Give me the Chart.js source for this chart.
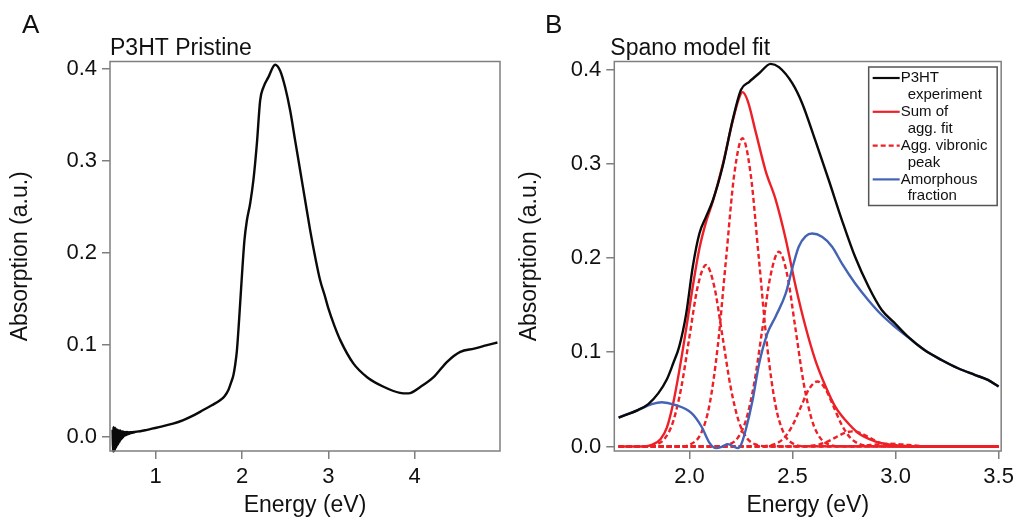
<!DOCTYPE html>
<html>
<head>
<meta charset="utf-8">
<script src="https://cdn.jsdelivr.net/npm/chart.js@4.4.1/dist/chart.umd.min.js"></script>
<style>
  html, body { margin: 0; padding: 0; background: #fff; }
  #wrap { position: relative; width: 1019px; height: 521px; overflow: hidden; }
  canvas { position: absolute; top: 0; }
  #cA { left: 0; }
  #cB { left: 510px; }
</style>
</head>
<body>
<div id="wrap">
  <canvas id="cA" width="510" height="521"></canvas>
  <canvas id="cB" width="509" height="521"></canvas>
</div>
<script>
// ---------------- Panel A data (P3HT Pristine) ----------------
const energyNoiseA = [0.500,0.505,0.510,0.515,0.520,0.525,0.530,0.535,0.540,0.545,0.550,0.555,0.560,0.565,0.570,0.575,0.580,0.585,0.590,0.595,0.600,0.605,0.610,0.615,0.620,0.625,0.630,0.635,0.640,0.645,0.650,0.655,0.660,0.665,0.670,0.675,0.680,0.685,0.690,0.695,0.700,0.705,0.710,0.715,0.720,0.725,0.730,0.735,0.740,0.745,0.750,0.755,0.760];
const absNoiseA = [0.008,-0.016,0.011,-0.016,0.010,-0.015,0.010,-0.013,0.009,-0.011,0.008,-0.009,0.008,-0.008,0.007,-0.006,0.007,-0.005,0.007,-0.003,0.006,-0.002,0.006,-0.001,0.006,0.000,0.0055,0.001,0.0055,0.0015,0.0055,0.002,0.0055,0.0025,0.0055,0.003,0.0052,0.0033,0.0052,0.0036,0.0052,0.0039,0.0052,0.0042,0.0053,0.0045,0.0053,0.0047,0.0054,0.0049,0.0055,0.0052,0.0056];
const energyA = [0.78,0.90,1.05,1.20,1.32,1.45,1.55,1.65,1.746,1.80,1.842,1.88,1.90,1.92,1.94,1.966,1.998,2.028,2.056,2.094,2.132,2.172,2.21,2.248,2.306,2.384,2.442,2.50,2.558,2.616,2.674,2.732,2.79,2.848,2.906,2.964,3.00,3.07,3.14,3.29,3.45,3.64,3.83,3.93,4.07,4.22,4.38,4.53,4.69,4.84,4.96];
const absA    = [0.0058,0.0078,0.011,0.0145,0.0184,0.024,0.0293,0.0345,0.040,0.0445,0.051,0.061,0.067,0.078,0.093,0.127,0.174,0.2137,0.235,0.2535,0.279,0.3185,0.3655,0.380,0.391,0.4045,0.398,0.380,0.3547,0.322,0.2896,0.257,0.2245,0.1956,0.170,0.152,0.140,0.121,0.105,0.080,0.065,0.0546,0.048,0.0474,0.0546,0.065,0.082,0.0925,0.096,0.0998,0.1027];
const xTicksA = [1,2,3,4];
const xTickLabelsA = ['1','2','3','4'];
const yTicksA = [0,0.1,0.2,0.3,0.4];
const yTickLabelsA = ['0.0','0.1','0.2','0.3','0.4'];

// ---------------- Panel B data (Spano model fit) ----------------
const energyExpB = [1.656,1.752,1.80,1.849,1.889,1.921,1.95,1.984,2.016,2.048,2.08,2.113,2.16,2.209,2.25,2.29,2.338,2.394,2.434,2.50,2.547,2.61,2.676,2.74,2.804,2.869,2.933,2.997,3.06,3.142,3.223,3.303,3.384,3.448,3.50];
const absExpB    = [0.0307,0.0389,0.045,0.0566,0.0707,0.0883,0.106,0.141,0.191,0.226,0.2436,0.261,0.2966,0.346,0.3785,0.387,0.396,0.406,0.4025,0.385,0.364,0.325,0.2825,0.240,0.201,0.1695,0.1448,0.1306,0.1165,0.102,0.0918,0.083,0.076,0.0706,0.0636];
const energySumB = [1.656,1.78,1.82,1.86,1.89,1.92,1.95,1.984,2.016,2.048,2.08,2.113,2.16,2.209,2.241,2.257,2.282,2.322,2.37,2.418,2.467,2.515,2.563,2.61,2.66,2.708,2.756,2.82,2.90,2.98,3.06,3.20,3.50];
const absSumB    = [0,0,0.002,0.008,0.020,0.045,0.080,0.125,0.170,0.210,0.238,0.260,0.298,0.345,0.370,0.376,0.367,0.333,0.292,0.262,0.220,0.170,0.127,0.092,0.064,0.042,0.028,0.014,0.0055,0.0018,0.0005,0,0];
const energyAmorB = [1.656,1.752,1.817,1.865,1.929,2.01,2.058,2.098,2.129,2.16,2.185,2.21,2.235,2.25,2.273,2.306,2.338,2.378,2.418,2.467,2.50,2.53,2.563,2.595,2.643,2.692,2.74,2.804,2.869,2.933,2.997,3.06,3.142,3.223,3.303,3.384,3.448,3.50];
const absAmorB    = [0.0307,0.0389,0.0449,0.047,0.0442,0.0354,0.0212,0.0036,-0.0018,0,0.0025,0.0005,-0.0018,0.0018,0.0177,0.049,0.088,0.120,0.138,0.1624,0.190,0.212,0.223,0.226,0.2225,0.212,0.194,0.173,0.155,0.1395,0.127,0.116,0.102,0.0918,0.083,0.076,0.0706,0.0636];
// Aggregate vibronic peaks (dashed)
const energyPeak1 = [1.656,1.78,1.83,1.88,1.92,1.96,2.00,2.04,2.08,2.12,2.16,2.20,2.24,2.28,2.33,2.38,3.50];
const absPeak1    = [0,0.0002,0.0015,0.0085,0.026,0.0625,0.1168,0.1699,0.1925,0.1699,0.1168,0.0625,0.026,0.0085,0.0015,0.0002,0];
const energyPeak2 = [1.656,1.957,2.007,2.057,2.097,2.137,2.177,2.217,2.257,2.297,2.337,2.377,2.417,2.457,2.507,2.557,3.50];
const absPeak2    = [0,0.0003,0.0025,0.0144,0.0442,0.1062,0.1983,0.2886,0.327,0.2886,0.1983,0.1062,0.0442,0.0144,0.0025,0.0003,0];
const energyPeak3 = [1.656,2.134,2.184,2.234,2.274,2.314,2.354,2.394,2.434,2.474,2.514,2.554,2.594,2.634,2.684,2.734,3.50];
const absPeak3    = [0,0.0002,0.0016,0.0091,0.028,0.0671,0.1253,0.1823,0.2066,0.1823,0.1253,0.0671,0.028,0.0091,0.0016,0.0002,0];
const energyPeak4 = [1.656,2.32,2.37,2.42,2.46,2.50,2.54,2.58,2.62,2.66,2.70,2.74,2.78,2.82,2.87,2.92,3.50];
const absPeak4    = [0,0.0001,0.0005,0.003,0.0093,0.0224,0.0418,0.0609,0.069,0.0609,0.0418,0.0224,0.0093,0.003,0.0005,0.0001,0];
const energyPeak5 = [1.656,2.49,2.54,2.59,2.63,2.67,2.71,2.75,2.79,2.83,2.87,2.91,2.95,2.99,3.04,3.09,3.50];
const absPeak5    = [0,0,0.0001,0.0007,0.0022,0.0052,0.0097,0.0141,0.016,0.0141,0.0097,0.0052,0.0022,0.0007,0.0001,0,0];
const energyPeak6 = [1.656,2.77,2.85,2.89,2.93,2.97,3.01,3.05,3.09,3.17,3.50];
const absPeak6    = [0,0,0.001,0.0018,0.0026,0.003,0.0026,0.0018,0.001,0,0];
const xTicksB = [2.0,2.5,3.0,3.5];
const xTickLabelsB = ['2.0','2.5','3.0','3.5'];
const yTicksB = [0,0.1,0.2,0.3,0.4];
const yTickLabelsB = ['0.0','0.1','0.2','0.3','0.4'];
const legendLabelsB = [['P3HT','experiment'],['Sum of','agg. fit'],['Agg. vibronic','peak'],['Amorphous','fraction']];

// ---------------- styling ----------------
const FONT = "'Liberation Sans', Arial, Helvetica, sans-serif";
const FRAME = '#7f7f7f';
const BLACK = '#0a0a0a';
const RED = '#ee2027';
const BLUE = '#4463b5';
const DASH = [5, 3];
const LW = 2.4;

function pts(xs, ys) { return xs.map((x, i) => ({x: x, y: ys[i]})); }

const framePlugin = {
  id: 'frame',
  afterDraw(chart, args, o) {
    const ctx = chart.ctx, a = chart.chartArea;
    ctx.save();
    ctx.strokeStyle = FRAME;
    ctx.lineWidth = 1.5;
    ctx.strokeRect(a.left, a.top, a.right - a.left, a.bottom - a.top);
    ctx.fillStyle = '#111';
    ctx.textBaseline = 'alphabetic';
    ctx.textAlign = 'left';
    ctx.font = '26px ' + FONT;
    ctx.fillText(o.letter, o.letterX, 33);
    ctx.font = '23px ' + FONT;
    ctx.fillText(o.title, a.left + o.titleDX, 55);
    if (o.legend) {
      const L = o.legend;
      const bl = a.right - 132.5, bt = a.top + 5.5, bw = 128.5, bh = 138.5;
      ctx.fillStyle = '#fff';
      ctx.fillRect(bl, bt, bw, bh);
      ctx.strokeStyle = '#555';
      ctx.lineWidth = 1.5;
      ctx.strokeRect(bl, bt, bw, bh);
      ctx.font = '15px ' + FONT;
      ctx.textBaseline = 'middle';
      const rowH = 16.9;
      L.forEach((item, k) => {
        const y1 = bt + 11 + rowH * 2 * k;
        ctx.strokeStyle = item.color;
        ctx.lineWidth = 2.2;
        ctx.setLineDash(item.dash);
        ctx.beginPath();
        ctx.moveTo(bl + 4, y1);
        ctx.lineTo(bl + 31, y1);
        ctx.stroke();
        ctx.setLineDash([]);
        ctx.fillStyle = '#111';
        ctx.fillText(item.text[0], bl + 32, y1);
        ctx.fillText(item.text[1], bl + 39, y1 + rowH);
      });
    }
    ctx.restore();
  }
};

function axisX(min, max, ticks, labels) {
  return {
    type: 'linear', min: min, max: max,
    afterFit: s => { s.height = 70; },
    afterBuildTicks: s => { s.ticks = ticks.map(v => ({value: v})); },
    border: {display: false},
    grid: {drawOnChartArea: false, drawTicks: true, tickLength: 8, tickColor: FRAME, lineWidth: 1.5},
    ticks: {font: {family: FONT, size: 22}, color: '#111', padding: 5, maxRotation: 0,
            callback: (v, i) => labels[i]},
    title: {display: true, text: 'Energy (eV)', font: {family: FONT, size: 23}, color: '#111',
            padding: {top: 0, bottom: 2}}
  };
}
function axisY(min, max, ticks, labels, w, tpad) {
  return {
    type: 'linear', min: min, max: max,
    afterFit: s => { s.width = w; },
    afterBuildTicks: s => { s.ticks = ticks.map(v => ({value: v})); },
    border: {display: false},
    grid: {drawOnChartArea: false, drawTicks: true, tickLength: 8, tickColor: FRAME, lineWidth: 1.5},
    ticks: {font: {family: FONT, size: 22}, color: '#111', padding: 5,
            callback: (v, i) => labels[i]},
    title: {display: true, text: 'Absorption (a.u.)', font: {family: FONT, size: 23}, color: '#111',
            padding: {top: tpad, bottom: 0}}
  };
}
function line(data, color, dash, order) {
  return {data: data, borderColor: color, borderWidth: LW, borderDash: dash || [], pointRadius: 0,
          cubicInterpolationMode: 'monotone', fill: false, order: order, clip: 1.5};
}

Chart.defaults.font.family = FONT;

new Chart(document.getElementById('cA'), {
  type: 'line',
  data: {datasets: [ line(pts(energyNoiseA.concat(energyA), absNoiseA.concat(absA)), BLACK, [], 0) ]},
  options: {
    responsive: false, animation: false, devicePixelRatio: 1,
    layout: {padding: {left: 0, top: 61.5, right: 10, bottom: 0}},
    plugins: {legend: {display: false}, tooltip: {enabled: false},
              frame: {letter: 'A', letterX: 22, title: 'P3HT Pristine', titleDX: 0}},
    scales: {x: axisX(0.47, 4.99, xTicksA, xTickLabelsA),
             y: axisY(-0.0152, 0.408, yTicksA, yTickLabelsA, 110, 7)}
  },
  plugins: [framePlugin]
});

new Chart(document.getElementById('cB'), {
  type: 'line',
  data: {datasets: [
    line(pts(energyExpB, absExpB), BLACK, [], 0),
    line(pts(energyAmorB, absAmorB), BLUE, [], 1),
    line(pts(energySumB, absSumB), RED, [], 2),
    line(pts(energyPeak1, absPeak1), RED, DASH, 3),
    line(pts(energyPeak2, absPeak2), RED, DASH, 3),
    line(pts(energyPeak3, absPeak3), RED, DASH, 3),
    line(pts(energyPeak4, absPeak4), RED, DASH, 3),
    line(pts(energyPeak5, absPeak5), RED, DASH, 3),
    line(pts(energyPeak6, absPeak6), RED, DASH, 3)
  ]},
  options: {
    responsive: false, animation: false, devicePixelRatio: 1,
    layout: {padding: {left: 0, top: 61.5, right: 15.5, bottom: 0}},
    plugins: {legend: {display: false}, tooltip: {enabled: false},
              frame: {letter: 'B', letterX: 35, title: 'Spano model fit', titleDX: -4,
                      legend: [
                        {text: legendLabelsB[0], color: BLACK, dash: []},
                        {text: legendLabelsB[1], color: RED, dash: []},
                        {text: legendLabelsB[2], color: RED, dash: DASH},
                        {text: legendLabelsB[3], color: BLUE, dash: []}
                      ]}},
    scales: {x: axisX(1.635, 3.5125, xTicksB, xTickLabelsB),
             y: axisY(-0.0048, 0.4085, yTicksB, yTickLabelsB, 104.3, 6)}
  },
  plugins: [framePlugin]
});
</script>
</body>
</html>
